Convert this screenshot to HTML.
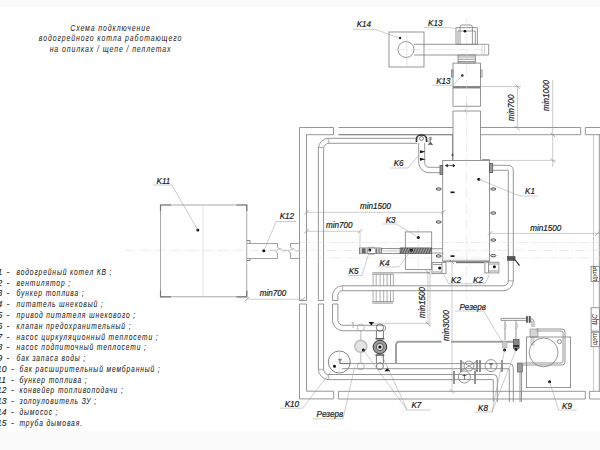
<!DOCTYPE html>
<html><head><meta charset="utf-8">
<style>
html,body{margin:0;padding:0;background:#fff;}
body{width:600px;height:450px;overflow:hidden;position:relative;}
svg{position:absolute;left:0;top:0;}
text{font-family:"Liberation Sans",sans-serif;font-style:italic;fill:#222;stroke:#222;stroke-width:0.22;}
.m{fill:none;stroke:#7c7c7c;stroke-width:0.8;}
.k{fill:none;stroke:#444;stroke-width:0.9;}
.t{fill:none;stroke:#9a9a9a;stroke-width:0.5;}
.c{fill:none;stroke:#d8d8d8;stroke-width:0.5;stroke-dasharray:10 2 1.5 2;}
.d{fill:#111;stroke:none;}
.g{fill:#9a9a9a;stroke:none;}
</style></head><body>
<svg width="600" height="450" viewBox="0 0 600 450">
<rect x="0" y="0" width="600" height="7" fill="#fafafa"/>
<rect x="0" y="431" width="600" height="19" fill="#fbfbfb"/>

<g font-size="8.2" text-anchor="middle" letter-spacing="1.04" style="fill:#333">
<text transform="translate(110.5 31) scale(0.85 1)" style="stroke-width:0.03">Схема подключение</text>
<text transform="translate(110.5 41.3) scale(0.85 1)" style="stroke-width:0.03">водогрейного котла работающего</text>
<text transform="translate(110.5 52.2) scale(0.85 1)" style="stroke-width:0.03">на опилках / щепе / пеллетах</text>
</g>
<g font-size="8.6" style="stroke-width:0.12">
<text x="-2.5" y="274.80" style="stroke-width:0.1">1</text><text x="6.5" y="274.80" style="stroke-width:0.1">-</text><text transform="translate(16.5 274.80) scale(0.78 1)" letter-spacing="1.1" style="stroke-width:0.06">водогрейный котел КВ ;</text>
<text x="-2.5" y="285.59" style="stroke-width:0.1">2</text><text x="6.5" y="285.59" style="stroke-width:0.1">-</text><text transform="translate(16.5 285.59) scale(0.78 1)" letter-spacing="1.1" style="stroke-width:0.06">вентилятор ;</text>
<text x="-2.5" y="296.38" style="stroke-width:0.1">3</text><text x="6.5" y="296.38" style="stroke-width:0.1">-</text><text transform="translate(16.5 296.38) scale(0.78 1)" letter-spacing="1.1" style="stroke-width:0.06">бункер топлива ;</text>
<text x="-2.5" y="307.17" style="stroke-width:0.1">4</text><text x="6.5" y="307.17" style="stroke-width:0.1">-</text><text transform="translate(16.5 307.17) scale(0.78 1)" letter-spacing="1.1" style="stroke-width:0.06">питатель шнековый ;</text>
<text x="-2.5" y="317.96" style="stroke-width:0.1">5</text><text x="6.5" y="317.96" style="stroke-width:0.1">-</text><text transform="translate(16.5 317.96) scale(0.78 1)" letter-spacing="1.1" style="stroke-width:0.06">привод питателя шнекового ;</text>
<text x="-2.5" y="328.75" style="stroke-width:0.1">6</text><text x="6.5" y="328.75" style="stroke-width:0.1">-</text><text transform="translate(16.5 328.75) scale(0.78 1)" letter-spacing="1.1" style="stroke-width:0.06">клапан предохранительный ;</text>
<text x="-2.5" y="339.54" style="stroke-width:0.1">7</text><text x="6.5" y="339.54" style="stroke-width:0.1">-</text><text transform="translate(16.5 339.54) scale(0.78 1)" letter-spacing="1.1" style="stroke-width:0.06">насос циркуляционный теплосети ;</text>
<text x="-2.5" y="350.33" style="stroke-width:0.1">8</text><text x="6.5" y="350.33" style="stroke-width:0.1">-</text><text transform="translate(16.5 350.33) scale(0.78 1)" letter-spacing="1.1" style="stroke-width:0.06">насос подпиточный теплосети ;</text>
<text x="-2.5" y="361.12" style="stroke-width:0.1">9</text><text x="6.5" y="361.12" style="stroke-width:0.1">-</text><text transform="translate(16.5 361.12) scale(0.78 1)" letter-spacing="1.1" style="stroke-width:0.06">бак запаса воды ;</text>
<text x="-3" y="371.91" style="stroke-width:0.1">10</text><text x="11" y="371.91" style="stroke-width:0.1">-</text><text transform="translate(19.5 371.91) scale(0.78 1)" letter-spacing="1.1" style="stroke-width:0.06">бак расширительный мембранный ;</text>
<text x="-3" y="382.70" style="stroke-width:0.1">11</text><text x="11" y="382.70" style="stroke-width:0.1">-</text><text transform="translate(19.5 382.70) scale(0.78 1)" letter-spacing="1.1" style="stroke-width:0.06">бункер топлива ;</text>
<text x="-3" y="393.49" style="stroke-width:0.1">12</text><text x="11" y="393.49" style="stroke-width:0.1">-</text><text transform="translate(19.5 393.49) scale(0.78 1)" letter-spacing="1.1" style="stroke-width:0.06">конвейер топливоподачи ;</text>
<text x="-3" y="404.28" style="stroke-width:0.1">13</text><text x="11" y="404.28" style="stroke-width:0.1">-</text><text transform="translate(19.5 404.28) scale(0.78 1)" letter-spacing="1.1" style="stroke-width:0.06">золоуловитель ЗУ ;</text>
<text x="-3" y="415.07" style="stroke-width:0.1">14</text><text x="11" y="415.07" style="stroke-width:0.1">-</text><text transform="translate(19.5 415.07) scale(0.78 1)" letter-spacing="1.1" style="stroke-width:0.06">дымосос ;</text>
<text x="-3" y="425.86" style="stroke-width:0.1">15</text><text x="11" y="425.86" style="stroke-width:0.1">-</text><text transform="translate(19.5 425.86) scale(0.78 1)" letter-spacing="1.1" style="stroke-width:0.06">труба дымовая.</text>
</g>
<g class="m">
<path d="M299.5 300.5 V127.5 H333.5 V134.7 H306.5 V300.5 Z M299.5 304 V398.9 H333.7 V391.2 H306.5 V304 Z"/>
<path d="M338.5 127.5 H453 M480.5 127.5 H580.7 V134.7 H480.5 M453 134.7 H338.5 Z"/>
<path d="M600 127.5 H585.3 V134.7 H600"/>
<path d="M599.3 134.7 V391.3"/>
<path d="M338.4 391.3 H585.3 V399 H338.4 Z"/>
<path d="M600 391.3 H589.6 V399 H600"/>
</g>
<path class="t" d="M593.5 134.7 V391.3"/>
<g class="m">
<rect x="389" y="32" width="35" height="35"/>
<circle cx="406" cy="49.5" r="8"/>
<path d="M414 44.3 H488.7 V55 H414"/>
<rect x="456" y="27.7" width="21.3" height="16.6"/>
<path d="M460 44 V27 Q460 25 462 25 H470.4 Q472.4 25 472.4 27 V44"/>
<path d="M458 31 H475.3 M458 31 V44 M475.3 31 V44"/>
<rect x="458" y="55" width="17.3" height="8"/>
<path d="M458 57 H475.3 M458 59.3 H475.3 M458 61.5 H475.3"/>
<rect x="453" y="63.1" width="27.5" height="24.9"/>
<rect x="451.5" y="70" width="1.5" height="7"/>
<rect x="480.5" y="70" width="1.5" height="7"/>
<path d="M453 87 H480.5" stroke-width="1.8"/>
<path d="M453 88 V106.3 H480.5 V88"/>
<path d="M453 160.4 V111 H480.5 V160.4"/>
</g>
<path class="t" d="M466 103 L467.5 106.5 L465 110 L467 114"/>
<path class="c" d="M466.7 18 V300"/>
<path class="c" d="M395 49.5 H488"/><path d="M482 44.3 V55 M484.5 44.3 V55" stroke="#aaa" stroke-width="0.5"/>
<path d="M406.7 32 V67" stroke="#cfcfcf" stroke-width="0.5"/>
<circle class="d" cx="400" cy="38" r="1.2"/><circle class="d" cx="465" cy="31.3" r="1.3"/><circle class="d" cx="462.3" cy="75.5" r="1.2"/>
<g class="m">
<rect x="442.7" y="160.4" width="46.9" height="100.8"/>
</g>
<g class="m">
<path d="M417.3 138.3 H328.7 A10.3 10.3 0 0 0 318.4 148.6 V300.5 H323.6 M323.6 304 H318.4 V369.3 A10.3 10.3 0 0 0 328.7 379.6 H493.3 V402"/>
<path d="M417.3 143.3 H328.7 A5.3 5.3 0 0 0 323.6 148.6 V300.5 M323.6 304 V369.3 A5.1 5.1 0 0 0 328.7 374.5 H493.3 A4 4 0 0 1 497.3 378.5 V402"/>
<path d="M318.4 147.6 H323.6 M328.7 138.3 V143.3 M318.4 369.3 H323.6 M328.7 374.5 V379.6" stroke-width="0.6"/>
<path d="M418.7 143 V162.3 A10.4 10.4 0 0 0 429.1 172.7 H440"/>
<path d="M424.7 143 V162.3 A5 5 0 0 0 429.1 167.3 H440"/>
<rect x="440" y="165.5" width="2.7" height="9" fill="#999" stroke="#555"/>
<path d="M492.7 165.3 H508.3 A5 5 0 0 1 513.3 170.3 V280.7 A10 10 0 0 1 503.3 290.7 H342.6 A4.7 4.7 0 0 0 337.9 295.4 V300.5 H332.5"/>
<path d="M492.7 170.3 H508.3 V280.8 A5 5 0 0 1 503.3 285.8 H342.6 A10.1 10.1 0 0 0 332.5 295.9 V300.5"/>
<path d="M342.6 285.8 V290.7 M508.3 280.8 H513.3" stroke-width="0.6"/>
<rect x="489.6" y="163.5" width="3.1" height="9" fill="#999" stroke="#555"/>
<path d="M332.5 304 H337.9 M332.5 304 V320.4 A10.3 10.3 0 0 0 342.8 330.7 H383 A2.6 2.6 0 0 0 383 325.3 H342.8 A5 5 0 0 1 337.9 320.4 V304"/>
</g>
<path class="c" d="M125 250.3 H600 M300 242.5 H600 M300 258 H600 M418.3 228 V275"/>
<ellipse cx="438.7" cy="189" rx="2.6" ry="1.2" fill="#ddd" stroke="#333" stroke-width="0.8"/>
<ellipse cx="438.7" cy="222" rx="2.6" ry="1.2" fill="#ddd" stroke="#333" stroke-width="0.8"/>
<ellipse cx="438.7" cy="256" rx="2.6" ry="1.2" fill="#ddd" stroke="#333" stroke-width="0.8"/>
<ellipse cx="493.3" cy="189" rx="2.6" ry="1.2" fill="#ddd" stroke="#333" stroke-width="0.8"/>
<ellipse cx="493.3" cy="213" rx="2.6" ry="1.2" fill="#ddd" stroke="#333" stroke-width="0.8"/>
<ellipse cx="493.3" cy="240" rx="2.6" ry="1.2" fill="#ddd" stroke="#333" stroke-width="0.8"/>
<ellipse cx="493.3" cy="255.6" rx="2.6" ry="1.2" fill="#ddd" stroke="#333" stroke-width="0.8"/>
<rect class="d" x="450.5" y="191.5" width="4" height="1.6"/>
<rect class="d" x="450.5" y="255.3" width="4" height="1.6"/>
<path d="M445.5 165.6 H455 M445.5 165.6 l2 -1.2 v2.4 z M455 165.6 l-2 -1.2 v2.4 z" stroke="#222" stroke-width="0.7" fill="#222"/>
<path class="m" d="M452.5 134.7 V160.4"/>
<path d="M451 155 h3 M452.5 153 v4" stroke="#555" stroke-width="0.7"/>
<path class="m" d="M482 159.5 H489.6"/>
<path d="M444 260.3 H489 M443 261.7 H489.6" stroke="#777" stroke-width="0.5"/><path d="M456 262.6 H484" stroke="#666" stroke-width="1.1"/>
<g class="m">
<rect x="432" y="262.6" width="14" height="11.1"/><path d="M442 262.6 V273.7 M433 264.5 H442 M433 272 H442"/>
<rect x="484.9" y="262.2" width="14" height="10.7"/><path d="M488.5 262.2 V272.9 M488.5 264 H498 M488.5 271 H498"/>
</g>
<circle class="d" cx="439.7" cy="268" r="1.5"/>
<circle class="d" cx="494.4" cy="266.7" r="1.5"/>
<g class="m">
<rect x="405.3" y="231.9" width="26.4" height="37.5"/>
<path d="M431.7 248.7 H442.7 M431.7 253 H442.7"/>
</g>
<rect x="400" y="247.9" width="31.7" height="5.8" fill="#9a9a9a" stroke="#555" stroke-width="0.6"/>
<path d="M400.0 253.7 L402.6 247.9 M402.6 253.7 L405.2 247.9 M405.2 253.7 L407.8 247.9 M407.8 253.7 L410.4 247.9 M410.4 253.7 L413.0 247.9 M413.0 253.7 L415.6 247.9 M415.6 253.7 L418.2 247.9 M418.2 253.7 L420.8 247.9 M420.8 253.7 L423.4 247.9 M423.4 253.7 L426.0 247.9 M426.0 253.7 L428.6 247.9 M428.6 253.7 L431.2 247.9" stroke="#333" stroke-width="0.7"/>
<circle class="d" cx="418.3" cy="237.4" r="1.5"/>
<circle class="d" cx="411.3" cy="250.3" r="1.5"/>
<rect x="359.5" y="248" width="21.5" height="5.5" fill="none" stroke="#555" stroke-width="0.7"/>
<rect x="360" y="248.3" width="8" height="5" fill="#c8c8c8"/><rect x="362" y="248.3" width="3.5" height="5" fill="#666"/>
<rect x="375" y="248.3" width="5.5" height="5" fill="#c8c8c8"/><path d="M376.5 248.3 V253.3 M379 248.3 V253.3" stroke="#666" stroke-width="0.8"/>
<rect x="367.5" y="247.3" width="8" height="7" rx="2" fill="none" stroke="#888" stroke-width="0.6"/>
<rect x="381.5" y="248.5" width="20" height="5" fill="none" stroke="#666" stroke-width="0.7"/>
<path d="M382.5 250.3 H400.5 M382.5 251.8 H400.5" stroke="#bbb" stroke-width="0.5"/>
<circle class="d" cx="369.8" cy="250" r="1.5"/>
<g class="m">
<path d="M372.3 272.8 H430 M372.3 274.2 H393.3 M372.3 301.6 H393.3 M372.3 303.1 H393.3"/>
</g>
<path stroke="#777" stroke-width="0.6" d="M373.1 274.2 V285.8 M373.1 290.7 V301.6 M376.2 274.2 V285.8 M376.2 290.7 V301.6 M380.1 274.2 V285.8 M380.1 290.7 V301.6 M383.7 274.2 V285.8 M383.7 290.7 V301.6 M387.1 274.2 V285.8 M387.1 290.7 V301.6 M390.5 274.2 V285.8 M390.5 290.7 V301.6 M393.3 274.2 V285.8 M393.3 290.7 V301.6"/>
<g fill="none" stroke="#aaa" stroke-width="0.8">
<circle cx="360.8" cy="327.6" r="3.5"/><path d="M360.8 331 V340"/>
<circle cx="360.8" cy="346.2" r="6" fill="#e4e4e4" stroke="#bbb" stroke-width="1.4"/>
<path d="M360.8 352.5 V362"/><circle cx="360.8" cy="366.2" r="3.5"/>
<path d="M353 322 V328 M351.5 323 H354.5"/>
</g>
<g fill="none" stroke="#555" stroke-width="0.8">
<circle cx="379.9" cy="327.6" r="3.6"/>
<path d="M376.4 331 V339 M383.4 331 V339 M376.4 355 V363 M383.4 355 V363"/>
<path d="M375.5 338.8 H384.3 M375.5 355 H384.3" stroke-width="1.5"/>
<circle cx="379.9" cy="347" r="6.8" fill="#9a9a9a" stroke="#333" stroke-width="1"/>
<circle cx="379.9" cy="347" r="3.6" fill="#e0e0e0" stroke="#444" stroke-width="0.8"/>
<circle cx="379.9" cy="366.2" r="3.5"/>
</g>
<path class="d" d="M368.6 322 H374.2 L371.4 325.5 Z M384.6 371.2 H390.2 L387.4 367.6 Z"/>
<circle class="d" cx="363.4" cy="350" r="1.5"/>
<circle class="d" cx="379.9" cy="347" r="1.6"/>
<circle cx="339.3" cy="362" r="11" fill="#fff" stroke="#666" stroke-width="0.8"/>
<path d="M339.3 351 V373 M328.3 362 H350.3" stroke="#d0d0d0" stroke-width="0.5" fill="none"/>
<path d="M338 359.8 H342 M340 358.5 V363.5 H350" stroke="#555" stroke-width="0.8" fill="none"/>
<circle class="d" cx="334.5" cy="366.3" r="1.5"/>
<g class="m">
<path d="M342 363.6 H509.3 A4 4 0 0 1 513.3 367.6 V402 M342 368.7 H509.3 V402"/>
<path d="M396 363.6 V345 A3.3 3.3 0 0 1 399.3 341.7 H441.4 M451 341.7 H519" style="stroke:#a0a0a0;stroke-width:2"/>
</g>
<g class="m">
<path d="M461 360 V372 M477 360 V372 M480 360 V372 M502 360 V372 M454 371 V384 M475 371 V384" stroke-width="1.6"/>
<circle cx="469" cy="366" r="5"/><path d="M461 361 L477 371 M461 371 L477 361"/>
<circle cx="491" cy="365.6" r="6"/>
<circle cx="464.4" cy="377" r="6"/>
</g>
<path d="M489 364 H493 M491 363 V368 M462.4 375.5 H466.4 M464.4 374.5 V379.5" stroke="#333" stroke-width="0.7"/>
<g class="m">
<path d="M501 318.4 H527 M501 320.4 H527 M501 318.4 V320.4"/>
<rect x="526.3" y="316.3" width="1.4" height="6.4" fill="#555" stroke="#444" stroke-width="0.5"/><rect x="529" y="316.3" width="1.4" height="6.4" fill="#555" stroke="#444" stroke-width="0.5"/>
<path d="M530 318.4 A4 4 0 0 1 534 322.4 V327 M530 320.4 A2 2 0 0 1 532 322.4 V327"/>
<path d="M505 320.4 V340 M516 320.4 V340"/>
</g>
<rect x="502.5" y="341.5" width="4.5" height="6.5" fill="#ccc" stroke="#999" stroke-width="0.5"/>
<rect x="513.3" y="339.5" width="5.8" height="9" fill="#888" stroke="#444" stroke-width="0.6"/><path d="M513.3 346 H519.1" stroke="#333" stroke-width="2"/>
<path d="M505 323 l1.5 3 l-1.5 3 M516.5 323 l1.5 3 l-1.5 3" stroke="#999" stroke-width="0.5" fill="none"/>
<rect x="530" y="329" width="8" height="8" fill="#d4d4d4" stroke="#888" stroke-width="0.6"/><rect x="531" y="337" width="3" height="8" fill="#e0e0e0" stroke="#999" stroke-width="0.5"/>
<circle class="d" cx="504.6" cy="350" r="1.5"/>
<circle class="d" cx="516" cy="349.5" r="1.5"/>
<g class="m">
<rect x="526.4" y="337" width="44.2" height="50.6"/>
<circle cx="543.6" cy="352.4" r="14.4"/>
<circle cx="559.4" cy="341.6" r="2"/>
<path d="M536.5 329 H562 A3 3 0 0 1 565 332 V362 A3 3 0 0 1 562 365 H523 M536.5 331 H561 A2 2 0 0 1 563 333 V361 A2 2 0 0 1 561 363 H523"/>
<path d="M520 366 V402 M521.5 366 V402"/>
</g>
<rect x="517.5" y="363" width="5" height="9" fill="#999" stroke="#555" stroke-width="0.6"/>
<circle class="d" cx="549.6" cy="381.7" r="1.5"/>
<g class="m">
<rect x="160.5" y="205" width="86.3" height="91.8" stroke="#959595"/>
</g>
<path stroke="#777" stroke-width="1.2" fill="none" d="M160.5 211 V205 H171 M236.5 205 H246.8 V211 M160.5 290.5 V296.8 H171 M236.5 296.8 H246.8 V290.5"/>
<path d="M203 205 V296.8" stroke="#d0d0d0" stroke-width="0.6"/>
<circle class="d" cx="197.8" cy="230" r="1.5"/>
<g class="m">
<path d="M247 240.5 H250 V243.5 M247 260.5 H250 V258.5" stroke="#666"/>
<path d="M247 243.5 H277.5 V247 L280 249.5 M277.5 258.5 V253 L275.5 251 M247 258.5 H277.5 M299 243.5 H290.5 V247 L293 249.5 M290.5 258.5 V253 L288.5 251 M299 258.5 H290.5" stroke="#8a8a8a"/>
</g>
<path class="t" d="M270 250.3 H276 L281 248.5 L283 251.5 L286 250.3 M284 250.3 H289 L294 248.5 L296 251.5 L299 250.3"/>
<circle class="d" cx="263.8" cy="250.8" r="1.5"/>
<g class="t">
<path d="M480.5 86.5 H521 M517.5 86.5 V128 M552.7 80 V167 M489.6 160.4 H556"/>
<path d="M306.4 212.3 H443 M306.4 231.3 H360 M360 231.3 V248"/>
<path d="M490 233.4 H600"/>
<path d="M247 299.2 H303"/>
<path d="M405 272.3 H430 M427.9 272.3 V324.1 M372 323.3 H430 M430 269.4 V326"/>
<path d="M452 262 V392"/>
</g>
<path class="t" d="M515.3 84.3 L519.7 88.7" style="stroke:#888;stroke-width:0.7"/>
<path class="t" d="M515.3 125.8 L519.7 130.2" style="stroke:#888;stroke-width:0.7"/>
<path class="t" d="M550.5 132.5 L554.9000000000001 136.89999999999998" style="stroke:#888;stroke-width:0.7"/>
<path class="t" d="M550.5 158.20000000000002 L554.9000000000001 162.6" style="stroke:#888;stroke-width:0.7"/>
<path class="t" d="M304.2 214.5 L308.59999999999997 210.10000000000002" style="stroke:#888;stroke-width:0.7"/>
<path class="t" d="M440.8 214.5 L445.2 210.10000000000002" style="stroke:#888;stroke-width:0.7"/>
<path class="t" d="M304.2 233.5 L308.59999999999997 229.10000000000002" style="stroke:#888;stroke-width:0.7"/>
<path class="t" d="M357.8 233.5 L362.2 229.10000000000002" style="stroke:#888;stroke-width:0.7"/>
<path class="t" d="M487.8 235.6 L492.2 231.20000000000002" style="stroke:#888;stroke-width:0.7"/>
<path class="t" d="M595.5 235.6 L599.9000000000001 231.20000000000002" style="stroke:#888;stroke-width:0.7"/>
<path class="t" d="M244.8 301.4 L249.2 297.0" style="stroke:#888;stroke-width:0.7"/>
<path class="t" d="M300.8 301.4 L305.2 297.0" style="stroke:#888;stroke-width:0.7"/>
<path class="t" d="M425.7 270.1 L430.09999999999997 274.5" style="stroke:#888;stroke-width:0.7"/>
<path class="t" d="M425.7 321.90000000000003 L430.09999999999997 326.3" style="stroke:#888;stroke-width:0.7"/>
<path class="t" d="M449.8 259.8 L454.2 264.2" style="stroke:#888;stroke-width:0.7"/>
<path class="t" d="M449.8 389.3 L454.2 393.7" style="stroke:#888;stroke-width:0.7"/>
<circle class="d" cx="478.75" cy="179.25" r="1.5"/>
<rect x="507.5" y="256.5" width="7.5" height="3.8" fill="#555" stroke="#333" stroke-width="0.5"/>
<path d="M514 258.5 L519.6 265.6" stroke="#333" stroke-width="1.2"/>
<path d="M416.5 142 V139 A5 4 0 0 1 426.5 139 V142" fill="none" stroke="#333" stroke-width="1.6"/>
<circle cx="421.5" cy="138.5" r="2" fill="none" stroke="#555" stroke-width="0.7"/>
<path d="M426.5 141 H430.4 M430.4 137.5 V142 M428.2 144.6 H432.6 L430.4 142 Z" fill="#555" stroke="#555" stroke-width="0.6"/>
<circle cx="430.4" cy="138.5" r="1.3" fill="none" stroke="#555" stroke-width="0.6"/>
<path class="d" d="M420 150.2 L425.5 151.7 L420 153.2 Z M420 157.8 L425.5 159.3 L420 160.8 Z"/>
<text font-size="8.8" transform="translate(356.7 27.3) scale(0.92 1)" text-anchor="start">K14</text>
<path class="t" d="M352.7 29.3 L374.7 29.3 L400.3 38.3"/>
<text font-size="8.8" transform="translate(428 26) scale(0.92 1)" text-anchor="start">K13</text>
<path class="t" d="M424.3 27.5 L447.3 27.5 L456 28.5"/>
<text font-size="8.8" transform="translate(436.2 83.6) scale(0.92 1)" text-anchor="start">K13</text>
<path class="t" d="M432.3 85.3 L453 85.3 L462.3 75.5"/>
<text font-size="8.8" transform="translate(525 194) scale(0.92 1)" text-anchor="start">K1</text>
<path class="t" d="M478.75 179.25 L520 196 L537.3 196"/>
<text font-size="8.8" transform="translate(393.7 166) scale(0.92 1)" text-anchor="start">K6</text>
<path class="t" d="M390 168 L408 168 L418.7 155.3"/>
<text font-size="8.8" transform="translate(156.5 183.5) scale(0.92 1)" text-anchor="start">K11</text>
<path class="t" d="M153 185 L171.8 185 L197.8 230"/>
<text font-size="8.8" transform="translate(279.7 219.1) scale(0.92 1)" text-anchor="start">K12</text>
<path class="t" d="M276.2 221.5 L296 221.5"/>
<path class="t" d="M276.2 221.5 L264 250.2"/>
<text font-size="8.8" transform="translate(385.7 222.6) scale(0.92 1)" text-anchor="start">K3</text>
<path class="t" d="M382.5 224 L396.3 224 L418.3 237.4"/>
<text font-size="8.8" transform="translate(348.7 274) scale(0.92 1)" text-anchor="start">K5</text>
<path class="t" d="M347.5 275.5 L362 275.5 L369.8 250"/>
<text font-size="8.8" transform="translate(379.5 265.5) scale(0.92 1)" text-anchor="start">K4</text>
<path class="t" d="M377.5 267 L398.7 267 L411.3 250.3"/>
<text font-size="8.8" transform="translate(451 283) scale(0.92 1)" text-anchor="start">K2</text>
<text font-size="8.8" transform="translate(473 283) scale(0.92 1)" text-anchor="start">K2</text>
<path class="t" d="M443.7 274.5 L448.7 283.8 L485 283.8 L489.5 274.5"/>
<text font-size="8.8" transform="translate(459.5 309.5) scale(0.92 1)" text-anchor="start">Резерв</text>
<path class="t" d="M455 311 L483.7 311 L502.5 342.5"/>
<text font-size="8.8" transform="translate(284.7 406.5) scale(0.92 1)" text-anchor="start">K10</text>
<path class="t" d="M280 408.2 L302.6 408.2 L331.4 370.9"/>
<text font-size="8.8" transform="translate(316.6 416.5) scale(0.92 1)" text-anchor="start">Резерв</text>
<path class="t" d="M312.7 418.8 L343 418.8 L354.7 367"/>
<text font-size="8.8" transform="translate(411.4 407.7) scale(0.92 1)" text-anchor="start">K7</text>
<path class="t" d="M407.2 410 L430.5 410"/>
<path class="t" d="M407.2 410 L363.4 350"/>
<path class="t" d="M407.2 410 L380.3 351.6"/>
<text font-size="8.8" transform="translate(478 410.5) scale(0.92 1)" text-anchor="start">K8</text>
<path class="t" d="M475 412 L492 412 L504.6 350"/>
<path class="t" d="M492 412 L516 349.5"/>
<text font-size="8.8" transform="translate(562 408.7) scale(0.92 1)" text-anchor="start">K9</text>
<path class="t" d="M549.6 381.7 L558.7 410 L576.7 410"/>
<text font-size="8.8" transform="translate(360 209.4) scale(0.92 1)" text-anchor="start">min1500</text>
<text font-size="8.8" transform="translate(326 228.3) scale(0.92 1)" text-anchor="start">min700</text>
<text font-size="8.8" transform="translate(530.2 230.7) scale(0.92 1)" text-anchor="start">min1500</text>
<text font-size="8.8" transform="translate(259.8 296.1) scale(0.92 1)" text-anchor="start">min700</text>
<text font-size="8.8" transform="translate(514 121) rotate(-90) scale(0.92 1)">min700</text>
<text font-size="8.8" transform="translate(549 111) rotate(-90) scale(0.92 1)">min1000</text>
<text font-size="8.8" transform="translate(424.5 318) rotate(-90) scale(0.92 1)">min1500</text>
<text font-size="8.8" transform="translate(449 341) rotate(-90) scale(0.92 1)">min3000</text>
<rect x="591.1" y="266.3" width="8.5" height="15.1" fill="#fff" stroke="#666" stroke-width="0.7"/>
<text font-size="5" transform="translate(597.3 273.9) rotate(-90)" text-anchor="middle" style="stroke-width:0.05">ЩУПР</text>
<rect x="591.1" y="307.8" width="8.5" height="23.3" fill="#fff" stroke="#666" stroke-width="0.7"/>
<text font-size="6.5" transform="translate(597.3 319.5) rotate(-90)" text-anchor="middle" style="stroke-width:0.05">ЩС</text>
<rect x="591.1" y="332.2" width="8.5" height="14.5" fill="#fff" stroke="#666" stroke-width="0.7"/>
<text font-size="5" transform="translate(597.3 339.4) rotate(-90)" text-anchor="middle" style="stroke-width:0.05">ЩУП</text>
</svg>
</body></html>
